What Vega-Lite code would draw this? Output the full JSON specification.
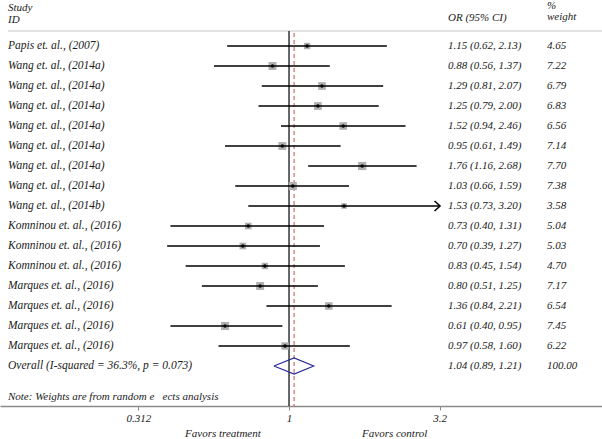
{
  "$schema": "https://vega.github.io/schema/vega-lite/v6.json",
  "width": 602,
  "height": 403,
  "padding": 0,
  "background": "white",
  "config": {"view": {"stroke": null}, "font": "Liberation Serif", "text": {"font": "Liberation Serif", "fontStyle": "italic", "color": "#1a1a1a"}},
  "datasets": {
    "studies": [
      {"row": 2, "study": "Papis et. al., (2007)", "or": 1.15, "lo": 0.62, "hi": 2.13, "weight": 4.65, "ci": "1.15 (0.62, 2.13)"},
      {"row": 3, "study": "Wang et. al., (2014a)", "or": 0.88, "lo": 0.56, "hi": 1.37, "weight": 7.22, "ci": "0.88 (0.56, 1.37)"},
      {"row": 4, "study": "Wang et. al., (2014a)", "or": 1.29, "lo": 0.81, "hi": 2.07, "weight": 6.79, "ci": "1.29 (0.81, 2.07)"},
      {"row": 5, "study": "Wang et. al., (2014a)", "or": 1.25, "lo": 0.79, "hi": 2.00, "weight": 6.83, "ci": "1.25 (0.79, 2.00)"},
      {"row": 6, "study": "Wang et. al., (2014a)", "or": 1.52, "lo": 0.94, "hi": 2.46, "weight": 6.56, "ci": "1.52 (0.94, 2.46)"},
      {"row": 7, "study": "Wang et. al., (2014a)", "or": 0.95, "lo": 0.61, "hi": 1.49, "weight": 7.14, "ci": "0.95 (0.61, 1.49)"},
      {"row": 8, "study": "Wang et. al., (2014a)", "or": 1.76, "lo": 1.16, "hi": 2.68, "weight": 7.70, "ci": "1.76 (1.16, 2.68)"},
      {"row": 9, "study": "Wang et. al., (2014a)", "or": 1.03, "lo": 0.66, "hi": 1.59, "weight": 7.38, "ci": "1.03 (0.66, 1.59)"},
      {"row": 10, "study": "Wang et. al., (2014b)", "or": 1.53, "lo": 0.73, "hi": 3.20, "weight": 3.58, "ci": "1.53 (0.73, 3.20)"},
      {"row": 11, "study": "Komninou et. al., (2016)", "or": 0.73, "lo": 0.40, "hi": 1.31, "weight": 5.04, "ci": "0.73 (0.40, 1.31)"},
      {"row": 12, "study": "Komninou et. al., (2016)", "or": 0.70, "lo": 0.39, "hi": 1.27, "weight": 5.03, "ci": "0.70 (0.39, 1.27)"},
      {"row": 13, "study": "Komninou et. al., (2016)", "or": 0.83, "lo": 0.45, "hi": 1.54, "weight": 4.70, "ci": "0.83 (0.45, 1.54)"},
      {"row": 14, "study": "Marques et. al., (2016)", "or": 0.80, "lo": 0.51, "hi": 1.25, "weight": 7.17, "ci": "0.80 (0.51, 1.25)"},
      {"row": 15, "study": "Marques et. al., (2016)", "or": 1.36, "lo": 0.84, "hi": 2.21, "weight": 6.54, "ci": "1.36 (0.84, 2.21)"},
      {"row": 16, "study": "Marques et. al., (2016)", "or": 0.61, "lo": 0.40, "hi": 0.95, "weight": 7.45, "ci": "0.61 (0.40, 0.95)"},
      {"row": 17, "study": "Marques et. al., (2016)", "or": 0.97, "lo": 0.58, "hi": 1.60, "weight": 6.22, "ci": "0.97 (0.58, 1.60)"}
    ],
    "overall": [
      {"row": 18, "study": "Overall (I-squared = 36.3%, p = 0.073)", "or": 1.04, "lo": 0.89, "hi": 1.21, "weight": 100.00, "ci": "1.04 (0.89, 1.21)"}
    ],
    "diamond": [
      {"k": 0, "x": 0.89, "y": 18},
      {"k": 1, "x": 1.04, "y": 17.6},
      {"k": 2, "x": 1.21, "y": 18},
      {"k": 3, "x": 1.04, "y": 18.4},
      {"k": 4, "x": 0.89, "y": 18}
    ]
  },
  "layer": [
    {
      "data": {"values": [{}]},
      "mark": {"type": "rule", "color": "#d9d9d9", "strokeWidth": 1.5},
      "encoding": {
        "x": {"datum": 0.114, "type": "quantitative",
          "scale": {"type": "log", "domain": [0.10719, 11.227], "nice": false},
          "axis": {"values": [0.312, 1, 3.2], "format": "~g", "title": null, "grid": false,
            "domainColor": "#8a8a8a", "domainWidth": 1.5, "tickColor": "#8a8a8a", "tickSize": 4, "tickWidth": 1,
            "labelFont": "Liberation Serif", "labelFontStyle": "italic", "labelFontSize": 11, "labelColor": "#1a1a1a", "labelPadding": 2}},
        "x2": {"datum": 11.227},
        "y": {"datum": 1.25, "type": "quantitative",
          "scale": {"type": "linear", "domain": [-0.15, 20], "reverse": true, "nice": false, "zero": false}, "axis": null}
      }
    },
    {
      "data": {"values": [{}]},
      "mark": {"type": "rule", "color": "#000000", "strokeWidth": 1.2},
      "encoding": {"x": {"datum": 1}, "y": {"datum": 1.25}, "y2": {"datum": 20}}
    },
    {
      "data": {"values": [{}]},
      "mark": {"type": "rule", "color": "#c0504d", "strokeWidth": 1, "strokeDash": [4, 3]},
      "encoding": {"x": {"datum": 1.04}, "y": {"datum": 1.35}, "y2": {"datum": 20}}
    },
    {
      "data": {"name": "studies"},
      "mark": {"type": "point", "shape": "square", "filled": true, "color": "#b0b0b0", "opacity": 1},
      "encoding": {
        "x": {"field": "or", "type": "quantitative", "title": null},
        "y": {"field": "row", "type": "quantitative"},
        "size": {"field": "weight", "type": "quantitative", "scale": {"domain": [0, 8], "range": [0, 70], "zero": true}, "legend": null}
      }
    },
    {
      "data": {"name": "studies"},
      "mark": {"type": "rule", "color": "#000000", "strokeWidth": 1.5},
      "encoding": {
        "x": {"field": "lo", "type": "quantitative", "title": null},
        "x2": {"field": "hi"},
        "y": {"field": "row", "type": "quantitative"}
      }
    },
    {
      "data": {"name": "studies"},
      "mark": {"type": "point", "shape": "circle", "filled": true, "color": "#000000", "size": 12, "opacity": 1},
      "encoding": {
        "x": {"field": "or", "type": "quantitative", "title": null},
        "y": {"field": "row", "type": "quantitative"}
      }
    },
    {
      "data": {"name": "studies"},
      "transform": [{"filter": "datum.hi >= 3.2"}],
      "mark": {"type": "point", "shape": "M -1 -1 L 0.1 0 L -1 1", "filled": false, "color": "#000000", "strokeWidth": 1.5, "size": 100, "opacity": 1},
      "encoding": {
        "x": {"field": "hi", "type": "quantitative", "title": null},
        "y": {"field": "row", "type": "quantitative"}
      }
    },
    {
      "data": {"name": "diamond"},
      "mark": {"type": "line", "color": "#2b2b9b", "strokeWidth": 1.2},
      "encoding": {
        "x": {"field": "x", "type": "quantitative", "title": null},
        "y": {"field": "y", "type": "quantitative"},
        "order": {"field": "k", "type": "quantitative"}
      }
    },
    {
      "data": {"name": "studies"},
      "mark": {"type": "text", "align": "left", "baseline": "middle", "fontSize": 11.5, "font": "Liberation Serif", "fontStyle": "italic"},
      "encoding": {"x": {"datum": 0.114}, "y": {"field": "row", "type": "quantitative"}, "text": {"field": "study"}}
    },
    {
      "data": {"name": "studies"},
      "mark": {"type": "text", "align": "left", "baseline": "middle", "fontSize": 11, "font": "Liberation Serif", "fontStyle": "italic"},
      "encoding": {"x": {"datum": 3.417}, "y": {"field": "row", "type": "quantitative"}, "text": {"field": "ci"}}
    },
    {
      "data": {"name": "studies"},
      "mark": {"type": "text", "align": "left", "baseline": "middle", "fontSize": 11, "font": "Liberation Serif", "fontStyle": "italic"},
      "encoding": {"x": {"datum": 7.34}, "y": {"field": "row", "type": "quantitative"}, "text": {"field": "weight", "format": ".2f"}}
    },
    {
      "data": {"name": "overall"},
      "mark": {"type": "text", "align": "left", "baseline": "middle", "fontSize": 11.5, "font": "Liberation Serif", "fontStyle": "italic"},
      "encoding": {"x": {"datum": 0.114}, "y": {"field": "row", "type": "quantitative"}, "text": {"field": "study"}}
    },
    {
      "data": {"name": "overall"},
      "mark": {"type": "text", "align": "left", "baseline": "middle", "fontSize": 11, "font": "Liberation Serif", "fontStyle": "italic"},
      "encoding": {"x": {"datum": 3.417}, "y": {"field": "row", "type": "quantitative"}, "text": {"field": "ci"}}
    },
    {
      "data": {"name": "overall"},
      "mark": {"type": "text", "align": "left", "baseline": "middle", "fontSize": 11, "font": "Liberation Serif", "fontStyle": "italic"},
      "encoding": {"x": {"datum": 7.34}, "y": {"field": "row", "type": "quantitative"}, "text": {"field": "weight", "format": ".2f"}}
    },
    {
      "data": {"values": [
        {"t": "Study", "c": 0.114, "r": 0.1},
        {"t": "ID", "c": 0.114, "r": 0.7},
        {"t": "OR (95% CI)", "c": 3.417, "r": 0.6},
        {"t": "%", "c": 7.34, "r": 0.0},
        {"t": "weight", "c": 7.34, "r": 0.55},
        {"t": "Note: Weights are from random e\u00a0\u00a0\u00a0ects analysis", "c": 0.114, "r": 19.55},
        {"t": "Favors treatment", "c": 0.448, "r": 21.4},
        {"t": "Favors control", "c": 1.758, "r": 21.4}
      ]},
      "mark": {"type": "text", "align": "left", "baseline": "middle", "fontSize": 11, "font": "Liberation Serif", "fontStyle": "italic"},
      "encoding": {"x": {"field": "c", "type": "quantitative", "title": null}, "y": {"field": "r", "type": "quantitative"}, "text": {"field": "t"}}
    }
  ]
}
